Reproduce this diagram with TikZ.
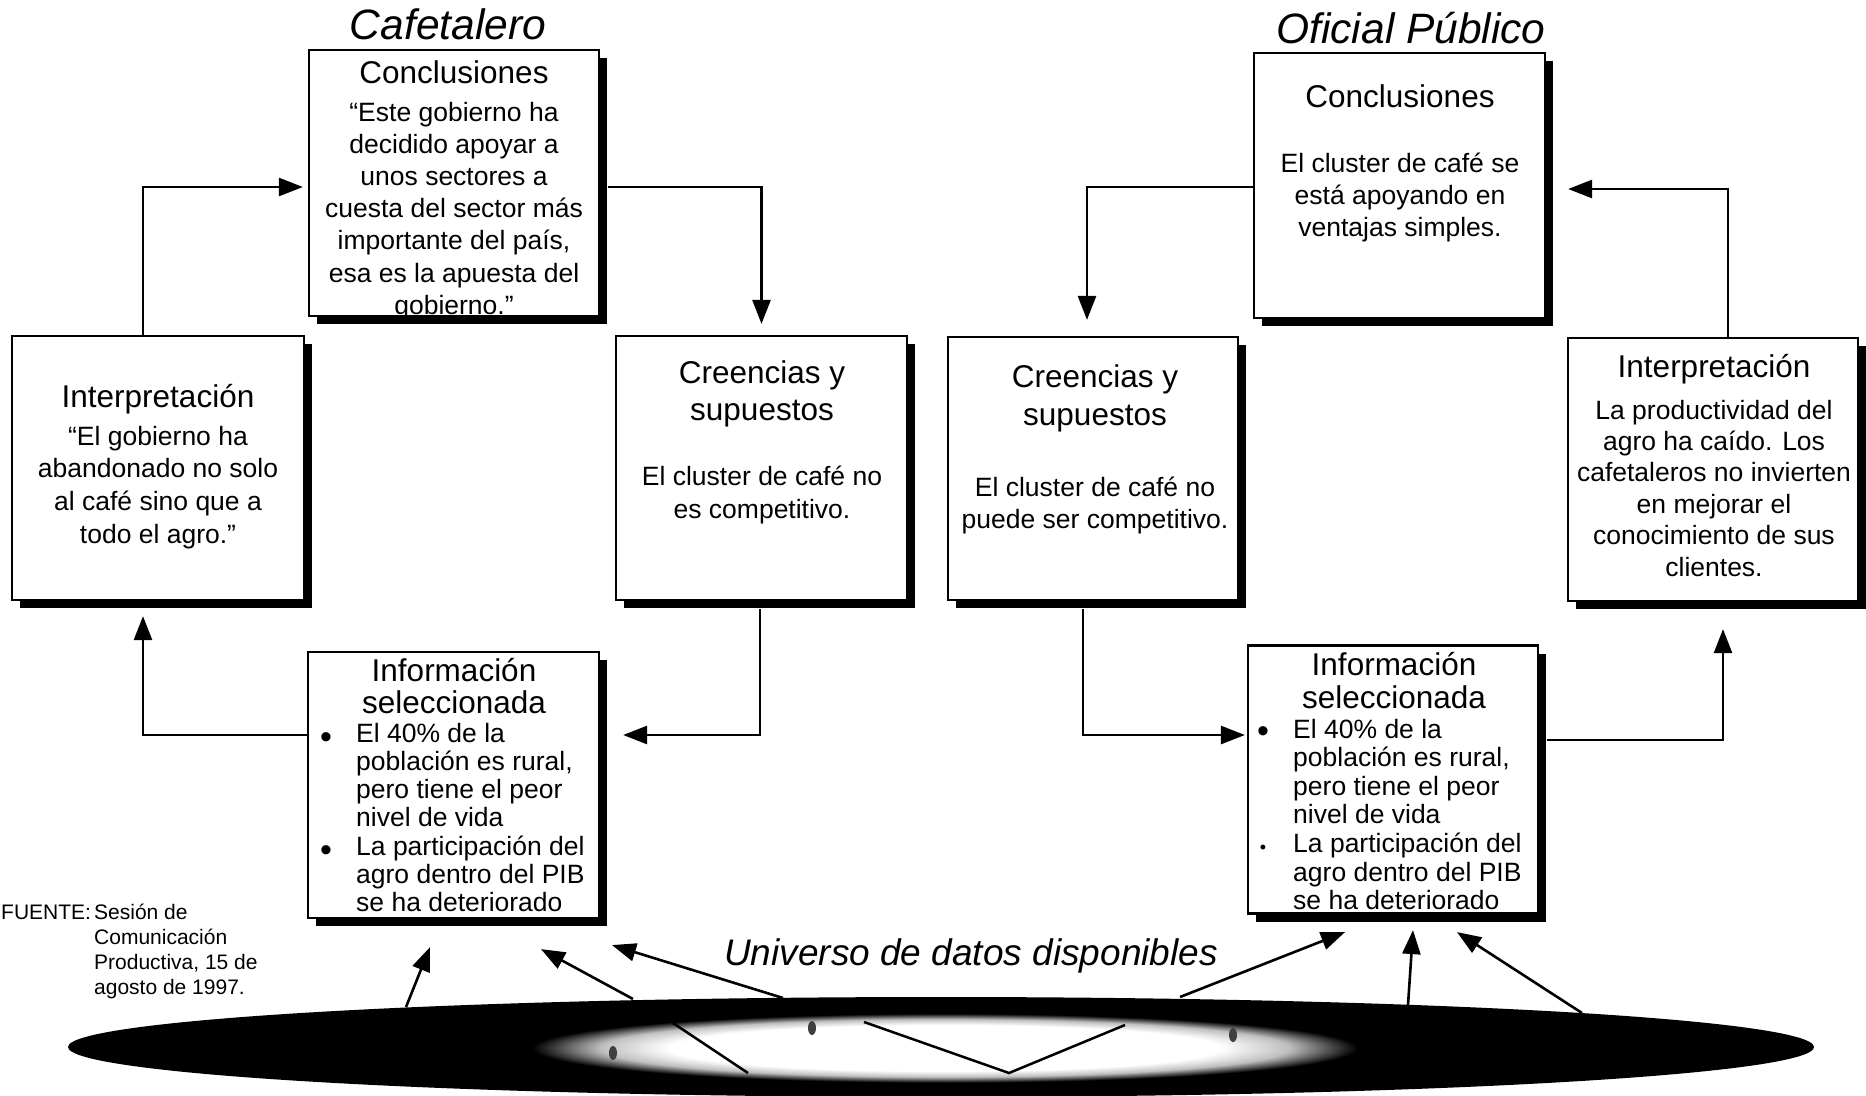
\documentclass[tikz,border=0pt]{standalone}
\usepackage{fontspec}
\setmainfont{Liberation Sans}
\usetikzlibrary{arrows.meta,shadows,calc,shapes.geometric}
\pgfdeclareradialshading{glow}{\pgfpoint{0bp}{0bp}}{color(0bp)=(white); color(16bp)=(white); color(20bp)=(black!25); color(24bp)=(black); color(50bp)=(black)}
\tikzset{
 box/.style={draw=black, line width=2.2pt, fill=white, inner sep=0pt,
   drop shadow={shadow xshift=8pt, shadow yshift=-8pt, fill=black, opacity=1}},
 arr/.style={line width=2.6pt, -{Triangle[length=24pt,width=18pt]}},
 body/.style={inner sep=0pt, anchor=base, font=\fontsize{26.5}{32}\selectfont},
 head/.style={inner sep=0pt, anchor=base, font=\fontsize{31.5}{38}\selectfont},
 item/.style={inner sep=0pt, anchor=base west, font=\fontsize{26.5}{32}\selectfont},
 bul/.style={inner sep=0pt, anchor=base, font=\fontsize{34}{40}\selectfont},
 ttl/.style={inner sep=0pt, anchor=base, font=\fontsize{42.5}{50}\selectfont\itshape},
 src/.style={inner sep=0pt, font=\fontsize{21}{25}\selectfont},
}
\begin{document}
\begin{tikzpicture}[x=1pt,y=-1pt]
\useasboundingbox (0,0) rectangle (1866,1095);

% universe of data
\node[ellipse, fill=black, minimum width=1746pt, minimum height=100pt, inner sep=0pt] (U) at (941,1047) {};
\shade[shading=glow] (945,1048) ellipse [x radius=430pt, y radius=36pt];
\fill[black!75] (613,1053) ellipse [x radius=4pt, y radius=7pt];
\fill[black!75] (812,1028) ellipse [x radius=4pt, y radius=7pt];
\fill[black!75] (1233,1035) ellipse [x radius=4pt, y radius=7pt];
\draw[line width=2.5pt] (673,1023) -- (748,1073);
\draw[line width=2.5pt] (864,1022) -- (1009,1073) -- (1125,1025);

% boxes
\node[box, minimum width=290pt, minimum height=266pt] (CL) at (454,183) {};
\node[box, minimum width=292pt, minimum height=264pt] (IL) at (158,468) {};
\node[box, minimum width=291pt, minimum height=264pt] (BL) at (761.5,468) {};
\node[box, minimum width=291pt, minimum height=266pt] (SL) at (453.5,785) {};
\node[box, minimum width=291pt, minimum height=265pt] (CR) at (1399.5,185.5) {};
\node[box, minimum width=290pt, minimum height=263pt] (BR) at (1093,468.5) {};
\node[box, minimum width=290pt, minimum height=263pt] (IR) at (1713,469.5) {};
\node[box, minimum width=290pt, minimum height=268pt] (SR) at (1393,779.5) {};

% titles
\node[ttl] (T1) at (448,39.5) {Cafetalero};
\node[ttl] (T2) at (1411,43) {Oficial Público};
\node[inner sep=0pt, anchor=base, font=\fontsize{37}{44}\selectfont\itshape] (T3) at (971,965) {Universo de datos disponibles};

% CL
\node[head] (CLh) at (454,83) {Conclusiones};
\foreach \t [count=\i from 0] in {{“Este gobierno ha},{decidido apoyar a},{unos sectores a},{cuesta del sector más},{importante del país,},{esa es la apuesta del},{gobierno.”}}
  \node[body] (CLt\i) at (454,{121+32.2*\i}) {\t};
% IL
\node[head] (ILh) at (158,407) {Interpretación};
\foreach \t [count=\i from 0] in {{“El gobierno ha},{abandonado no solo},{al café sino que a},{todo el agro.”}}
  \node[body] (ILt\i) at (158,{445+32.7*\i}) {\t};
% BL
\foreach \t [count=\i from 0] in {{Creencias y},{supuestos}}
  \node[head] (BLh\i) at (762,{383+37.5*\i}) {\t};
\foreach \t [count=\i from 0] in {{El cluster de café no},{es competitivo.}}
  \node[body] (BLt\i) at (762,{485+33*\i}) {\t};
% SL
\foreach \t [count=\i from 0] in {{Información},{seleccionada}}
  \node[head] (SLh\i) at (454,{681+32.5*\i}) {\t};
\foreach \t [count=\i from 0] in {{El 40\% de la},{población es rural,},{pero tiene el peor},{nivel de vida},{La participación del},{agro dentro del PIB},{se ha deteriorado}}
  \node[item] (SLt\i) at (356,{742+28.3*\i}) {\t};
\node[bul] (SLd1) at (326,748) {•};
\node[bul] (SLd2) at (326,861) {•};

% CR
\node[head] (CRh) at (1400,107.5) {Conclusiones};
\foreach \t [count=\i from 0] in {{El cluster de café se},{está apoyando en},{ventajas simples.}}
  \node[body] (CRt\i) at (1400,{172.7+32*\i}) {\t};
% BR
\foreach \t [count=\i from 0] in {{Creencias y},{supuestos}}
  \node[head] (BRh\i) at (1095,{387+38*\i}) {\t};
\foreach \t [count=\i from 0] in {{El cluster de café no},{puede ser competitivo.}}
  \node[body] (BRt\i) at (1095,{496+32*\i}) {\t};
% IR
\node[head] (IRh) at (1714,377.5) {Interpretación};
\foreach \t [count=\i from 0] in {{La productividad del},{agro ha caído. Los},{cafetaleros no invierten},{en mejorar el},{conocimiento de sus},{clientes.}}
  \node[body] (IRt\i) at (1714,{419+31.4*\i}) {\t};
% SR
\foreach \t [count=\i from 0] in {{Información},{seleccionada}}
  \node[head] (SRh\i) at (1394,{675+33.5*\i}) {\t};
\foreach \t [count=\i from 0] in {{El 40\% de la},{población es rural,},{pero tiene el peor},{nivel de vida},{La participación del},{agro dentro del PIB},{se ha deteriorado}}
  \node[item] (SRt\i) at (1293,{738+28.6*\i}) {\t};
\node[bul] (SRd1) at (1263,742) {•};
\node[inner sep=0pt, anchor=base, font=\fontsize{18}{22}\selectfont] (SRd2) at (1263,853.5) {•};

% source
\node[src, anchor=base west] (F0) at (1,919) {FUENTE:};
\foreach \t [count=\i from 0] in {{Sesión de},{Comunicación},{Productiva, 15 de},{agosto de 1997.}}
  \node[src, anchor=base west] (F\i x) at (94,{919+25.3*\i}) {\t};

% left loop
\draw[arr, shorten >=5pt] ($(IL.north)+(-15,0)$) |- (CL.west |- 0,187);
\draw[arr, shorten >=11pt] ($(CL.east |- 0,187)+(8,0)$) -| (BL.north);
\draw[arr] ($(BL.south)+(-1.5,8)$) |- ($(SL.east |- 0,735)+(23,0)$);
\draw[arr] (SL.west |- 0,735) -| ($(IL.south)+(-15,15)$);
% right loop
\draw[arr] (CR.west |- 0,187) -| ($(BR.north)+(-6,-16)$);
\draw[arr, shorten >=2pt] ($(BR.south)+(-10,8)$) |- (SR.west |- 0,735);
\draw[arr] ($(SR.east |- 0,740)+(8,0)$) -| ($(IR.south)+(10,27)$);
\draw[arr] ($(IR.north)+(15,0)$) |- ($(CR.east |- 0,189)+(22,0)$);

% data arrows
\coordinate (u1) at (406,1007);
\coordinate (u2) at (633,999);
\coordinate (u3) at (783,998);
\coordinate (u4) at (1180,997);
\coordinate (u5) at (1408,1005);
\coordinate (u6) at (1582,1013);
\draw[arr] (u1) -- ($(SL.south)+(-23.5,28)$);
\draw[arr] (u2) -- ($(SL.south)+(87.5,30)$);
\draw[arr] (u3) -- ($(SL.south)+(158.5,26)$);
\draw[arr] (u4) -- ($(SR.south)+(-48,17.5)$);
\draw[arr] (u5) -- ($(SR.south)+(20,15.5)$);
\draw[arr] (u6) -- ($(SR.south)+(64,17.5)$);
\end{tikzpicture}
\end{document}
